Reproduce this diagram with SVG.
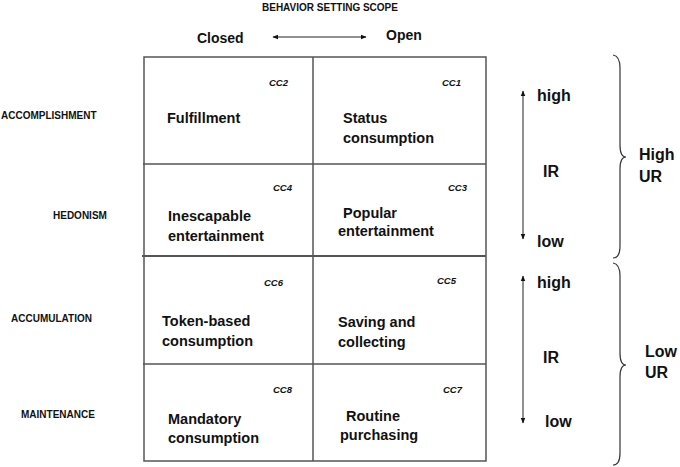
<svg xmlns="http://www.w3.org/2000/svg" width="680" height="467" viewBox="0 0 680 467">
<style>
text{font-family:"Liberation Sans",Arial,sans-serif;font-weight:bold;fill:#111}
.hdr{font-size:10px}
.ax{font-size:14px}
.cell{font-size:14.5px}
.cc{font-size:9.5px;font-style:italic}
.rl{font-size:16px}
.grid{stroke:#555;stroke-width:1.5;fill:none}
.arr{stroke:#222;stroke-width:1;fill:none}
.brace{stroke:#333;stroke-width:1.2;fill:none}
</style>
<defs>
<marker id="ah" viewBox="0 0 10 10" refX="9" refY="5" markerWidth="6" markerHeight="6" orient="auto-start-reverse" markerUnits="userSpaceOnUse">
<path d="M0,1 L10,5 L0,9 z" fill="#111"/>
</marker>
</defs>
<rect width="680" height="467" fill="#fff"/>

<g id="header">
<text class="hdr" x="262" y="11">BEHAVIOR SETTING SCOPE</text>
<text class="ax" x="197" y="43">Closed</text>
<text class="ax" x="386" y="40">Open</text>
</g>

<g id="row-labels">
<text class="hdr" x="1" y="119">ACCOMPLISHMENT</text>
<text class="hdr" x="53" y="219">HEDONISM</text>
<text class="hdr" x="11" y="322">ACCUMULATION</text>
<text class="hdr" x="21" y="418">MAINTENANCE</text>
</g>

<g id="grid">
<rect class="grid" x="144" y="57" width="342" height="404"/>
<line class="grid" x1="313" y1="57" x2="313" y2="461"/>
<line class="grid" x1="143" y1="164" x2="486" y2="164"/>
<line class="grid" x1="142" y1="256" x2="486" y2="256" style="stroke-width:2"/>
<line class="grid" x1="143" y1="364" x2="486" y2="364"/>
</g>

<g id="cc2"><text class="cc" x="269" y="86">CC2</text><text class="cell" x="167" y="123">Fulfillment</text></g>
<g id="cc1"><text class="cc" x="442" y="86">CC1</text><text class="cell" x="343" y="123">Status</text><text class="cell" x="343" y="143">consumption</text></g>
<g id="cc4"><text class="cc" x="273" y="191">CC4</text><text class="cell" x="168" y="221">Inescapable</text><text class="cell" x="168" y="241">entertainment</text></g>
<g id="cc3"><text class="cc" x="448" y="191">CC3</text><text class="cell" x="343" y="218">Popular</text><text class="cell" x="338" y="236">entertainment</text></g>
<g id="cc6"><text class="cc" x="264" y="286">CC6</text><text class="cell" x="162" y="326">Token-based</text><text class="cell" x="162" y="346">consumption</text></g>
<g id="cc5"><text class="cc" x="437" y="284">CC5</text><text class="cell" x="338" y="327">Saving and</text><text class="cell" x="338" y="347">collecting</text></g>
<g id="cc8"><text class="cc" x="273" y="393">CC8</text><text class="cell" x="168" y="424">Mandatory</text><text class="cell" x="168" y="443">consumption</text></g>
<g id="cc7"><text class="cc" x="443" y="393">CC7</text><text class="cell" x="346" y="421">Routine</text><text class="cell" x="340" y="440">purchasing</text></g>

<g id="high-ur">
<text class="rl" x="537" y="101">high</text>
<text class="rl" x="543" y="177">IR</text>
<text class="rl" x="537" y="247">low</text>
<text class="rl" x="639" y="160">High</text>
<text class="rl" x="639" y="182">UR</text>
</g>
<g id="low-ur">
<text class="rl" x="537" y="288">high</text>
<text class="rl" x="543" y="363">IR</text>
<text class="rl" x="545" y="427">low</text>
<text class="rl" x="645" y="357">Low</text>
<text class="rl" x="645" y="378">UR</text>
</g>

<g id="connectors">
<line class="arr" x1="273" y1="37" x2="366" y2="37" marker-start="url(#ah)" marker-end="url(#ah)"/>
<line class="arr" x1="523" y1="91" x2="523" y2="239" marker-start="url(#ah)" marker-end="url(#ah)"/>
<line class="arr" x1="523" y1="276" x2="523" y2="423" marker-start="url(#ah)" marker-end="url(#ah)"/>
<path class="brace" d="M613,55 Q620,56 620,68 L620,145 Q620,157 626,157 Q620,157 620,169 L620,246 Q620,258 613,258"/>
<path class="brace" d="M613,263 Q620,264 620,276 L620,353 Q620,365 626,365 Q620,365 620,377 L620,453 Q620,465 613,465"/>
</g>
</svg>
